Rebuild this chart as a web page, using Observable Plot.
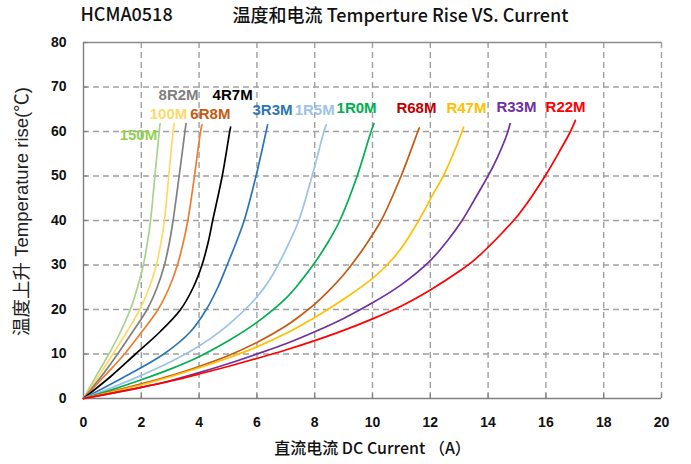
<!DOCTYPE html>
<html>
<head>
<meta charset="utf-8">
<script src="https://cdn.jsdelivr.net/npm/d3@7"></script>
<script src="https://cdn.jsdelivr.net/npm/@observablehq/plot@0.6"></script>
<style>
  body { margin: 0; background: #fff; }
  #chart { position: relative; width: 691px; height: 464px; }
</style>
</head>
<body>
<div id="chart"></div>
<script>
// ---- data ----
const xTicks = [0, 2, 4, 6, 8, 10, 12, 14, 16, 18, 20];
const yTicks = [0, 10, 20, 30, 40, 50, 60, 70, 80];

const names = ["150M", "100M", "8R2M", "6R8M", "4R7M", "3R3M", "1R5M", "1R0M", "R68M", "R47M", "R33M", "R22M"];
const lineColors = ["#A9D18E", "#FFD966", "#808080", "#ED7D31", "#000000", "#2E75B6", "#9DC3E6", "#00B050", "#C55A11", "#FFC000", "#7030A0", "#FF0000"];
const labelColors = ["#92D050", "#FFD966", "#7F7F7F", "#C55A11", "#000000", "#2E75B6", "#9DC3E6", "#00B050", "#C00000", "#FFC000", "#7030A0", "#FF0000"];
const labelX = [1.9, 2.94, 3.29, 4.39, 5.16, 6.54, 8.0, 9.45, 11.52, 13.25, 14.98, 16.68];
const labelY = [59.1, 64.0, 68.1, 63.8, 68.1, 64.7, 64.7, 65.2, 65.2, 65.2, 65.4, 65.4];

const c150M = [[0,0],[0.45,5.2],[0.88,10],[1.28,15],[1.62,20],[1.87,25],[2.07,30],[2.21,35],[2.32,40],[2.47,50],[2.62,60],[2.65,61.8]];
const c100M = [[0,0],[0.5,4.8],[1.02,10],[1.5,15],[1.95,20],[2.25,24.5],[2.52,30],[2.68,35],[2.8,40],[2.95,50],[3.1,60],[3.14,61.8]];
const c8R2M = [[0,0],[0.6,4.8],[1.18,10],[1.7,15],[2.2,20],[2.55,25],[2.8,30],[2.97,35],[3.1,40],[3.31,50],[3.51,60],[3.55,61.8]];
const c6R8M = [[0,0],[0.72,5],[1.42,10],[2.02,15],[2.58,20],[2.97,25],[3.25,30],[3.45,35],[3.61,40],[3.84,50],[4.05,60],[4.1,61.5]];
const c4R7M = [[0,0],[0.95,5],[1.8,10],[2.65,15],[3.36,20],[3.8,25],[4.1,30],[4.31,35],[4.47,40],[4.8,50],[5.06,60],[5.09,61]];
const c3R3M = [[0,0],[1.45,5],[2.78,10],[3.7,15],[4.25,20],[4.65,25],[4.97,30],[5.28,35],[5.56,40],[5.97,50],[6.32,60],[6.37,61.5]];
const c1R5M = [[0,0],[1,2.5],[2,5.2],[3,8.2],[4,11.8],[5,16.5],[6,22.8],[6.5,27.3],[6.85,31.5],[7.15,35.5],[7.45,40],[7.91,50],[8.32,60],[8.4,61.5]];
const c1R0M = [[0,0],[1,2],[2,4.2],[3,6.6],[4,9.4],[5,12.9],[6,17.1],[7,22.5],[7.5,26.2],[8,30.5],[8.45,35],[8.87,40],[9.47,50],[9.95,60],[10.05,61.8]];
const cR68M = [[0,0],[1,1.6],[2,3.3],[3,5.1],[4,7.2],[5,9.6],[6,12.6],[7,16.3],[7.5,18.6],[8,21.2],[8.5,24.3],[9,27.8],[9.5,32],[10,36.8],[10.3,40],[10.99,50],[11.57,60],[11.62,60.8]];
const cR47M = [[0,0],[1,1.5],[2,3.1],[3,4.9],[4,6.9],[5,9.1],[6,11.6],[7,14.6],[8,18.2],[9,22.3],[10,27],[10.5,30],[11,33.8],[11.6,40],[12.1,46],[12.45,50],[13.1,60],[13.15,61]];
const cR33M = [[0,0],[1,1.2],[2,2.5],[3,4],[4,5.8],[5,7.8],[6,10],[7,12.3],[8,15],[9,18],[10,21.5],[11,25.6],[12,31],[12.6,35.5],[13.1,40],[13.6,45.5],[14.2,52.5],[14.66,59.5],[14.76,61.8]];
const cR22M = [[0,0],[1,1.2],[2,2.5],[3,3.9],[4,5.5],[5,7.2],[6,9],[7,10.9],[8,13],[9,15.3],[10,17.9],[11,20.8],[12,24.4],[13,28.6],[13.5,31],[14,34],[14.5,37.3],[14.95,40.5],[15.5,45.3],[16.02,50.5],[16.45,55.3],[16.85,60],[17.02,62.5]];

const curves = [c150M, c100M, c8R2M, c6R8M, c4R7M, c3R3M, c1R5M, c1R0M, cR68M, cR47M, cR33M, cR22M];

// ---- build tables ----
const rows = curves.flatMap((pts, i) => pts.map(([x, y]) => ({name: names[i], color: lineColors[i], x, y})));
const labels = names.map((n, i) => ({name: n, x: labelX[i], y: labelY[i], color: labelColors[i]}));

const grid = {stroke: "#A0A0A0", strokeWidth: 1.4, strokeDasharray: "6,4"};
const latin = "'Liberation Sans', Arial, sans-serif";
const cjk = "'Noto Sans CJK SC', 'Noto Sans', sans-serif";
const mixed = "'Liberation Sans', 'Noto Sans CJK SC', sans-serif";

const chart = Plot.plot({
  width: 691,
  height: 464,
  marginTop: 42,
  marginBottom: 66,
  marginLeft: 83,
  marginRight: 30,
  style: {fontFamily: latin, background: "#fff", color: "#111"},
  x: {domain: [0, 20]},
  y: {domain: [0, 80]},
  color: {type: "identity"},
  marks: [
    Plot.ruleX(xTicks.filter(d => d > 0), {...grid}),
    Plot.ruleY(yTicks.filter(d => d > 0 && d < 80), {...grid}),
    Plot.ruleY([80], {stroke: "#8C8C8C", strokeWidth: 1.3}),
    Plot.ruleX([0], {stroke: "#7F7F7F", strokeWidth: 1.4}),
    Plot.ruleY([0], {stroke: "#7F7F7F", strokeWidth: 1.4}),
    Plot.ruleX(xTicks.filter(d => d > 0), {y1: 0, y2: 1, stroke: "#7F7F7F", strokeWidth: 1.2}),
    Plot.ruleY(yTicks.filter(d => d > 0), {x1: 0, x2: 0.15, stroke: "#7F7F7F", strokeWidth: 1.2}),
    Plot.line(rows, {x: "x", y: "y", z: "name", stroke: "color", strokeWidth: 1.7, curve: "catmull-rom"}),
    Plot.text(labels, {x: "x", y: "y", text: "name", fill: "color", fontSize: 15, fontWeight: "bold", fontFamily: latin}),
    Plot.axisX({ticks: xTicks, tickSize: 0, tickPadding: 19, fontSize: 14, fontWeight: "bold", label: null, tickFormat: d => String(d)}),
    Plot.axisY({ticks: yTicks, tickSize: 0, tickPadding: 17, fontSize: 14, fontWeight: "bold", label: null, tickFormat: d => String(d)}),
    Plot.text(["HCMA0518"], {frameAnchor: "top-left", dx: -3, dy: -27, lineAnchor: "middle", textAnchor: "start", fontSize: 18, fontWeight: 500, fontFamily: cjk, fill: "#111"}),
    Plot.text(["温度和电流 Temperture Rise VS. Current"], {frameAnchor: "top", dx: 28, dy: -26, lineAnchor: "middle", textAnchor: "middle", fontSize: 18, fontWeight: 500, fontFamily: cjk, fill: "#111"}),
    Plot.text(["直流电流 DC Current （A）"], {frameAnchor: "bottom", dy: 50, lineAnchor: "middle", textAnchor: "middle", fontSize: 16, fontWeight: 500, fontFamily: cjk, fill: "#111"}),
    Plot.text(["温度上升 Temperature rise(℃)"], {frameAnchor: "left", dx: -61, dy: -9, rotate: -90, lineAnchor: "middle", textAnchor: "middle", fontSize: 18.5, fontFamily: mixed, fill: "#222"})
  ]
});
document.getElementById("chart").appendChild(chart);
</script>
</body>
</html>
